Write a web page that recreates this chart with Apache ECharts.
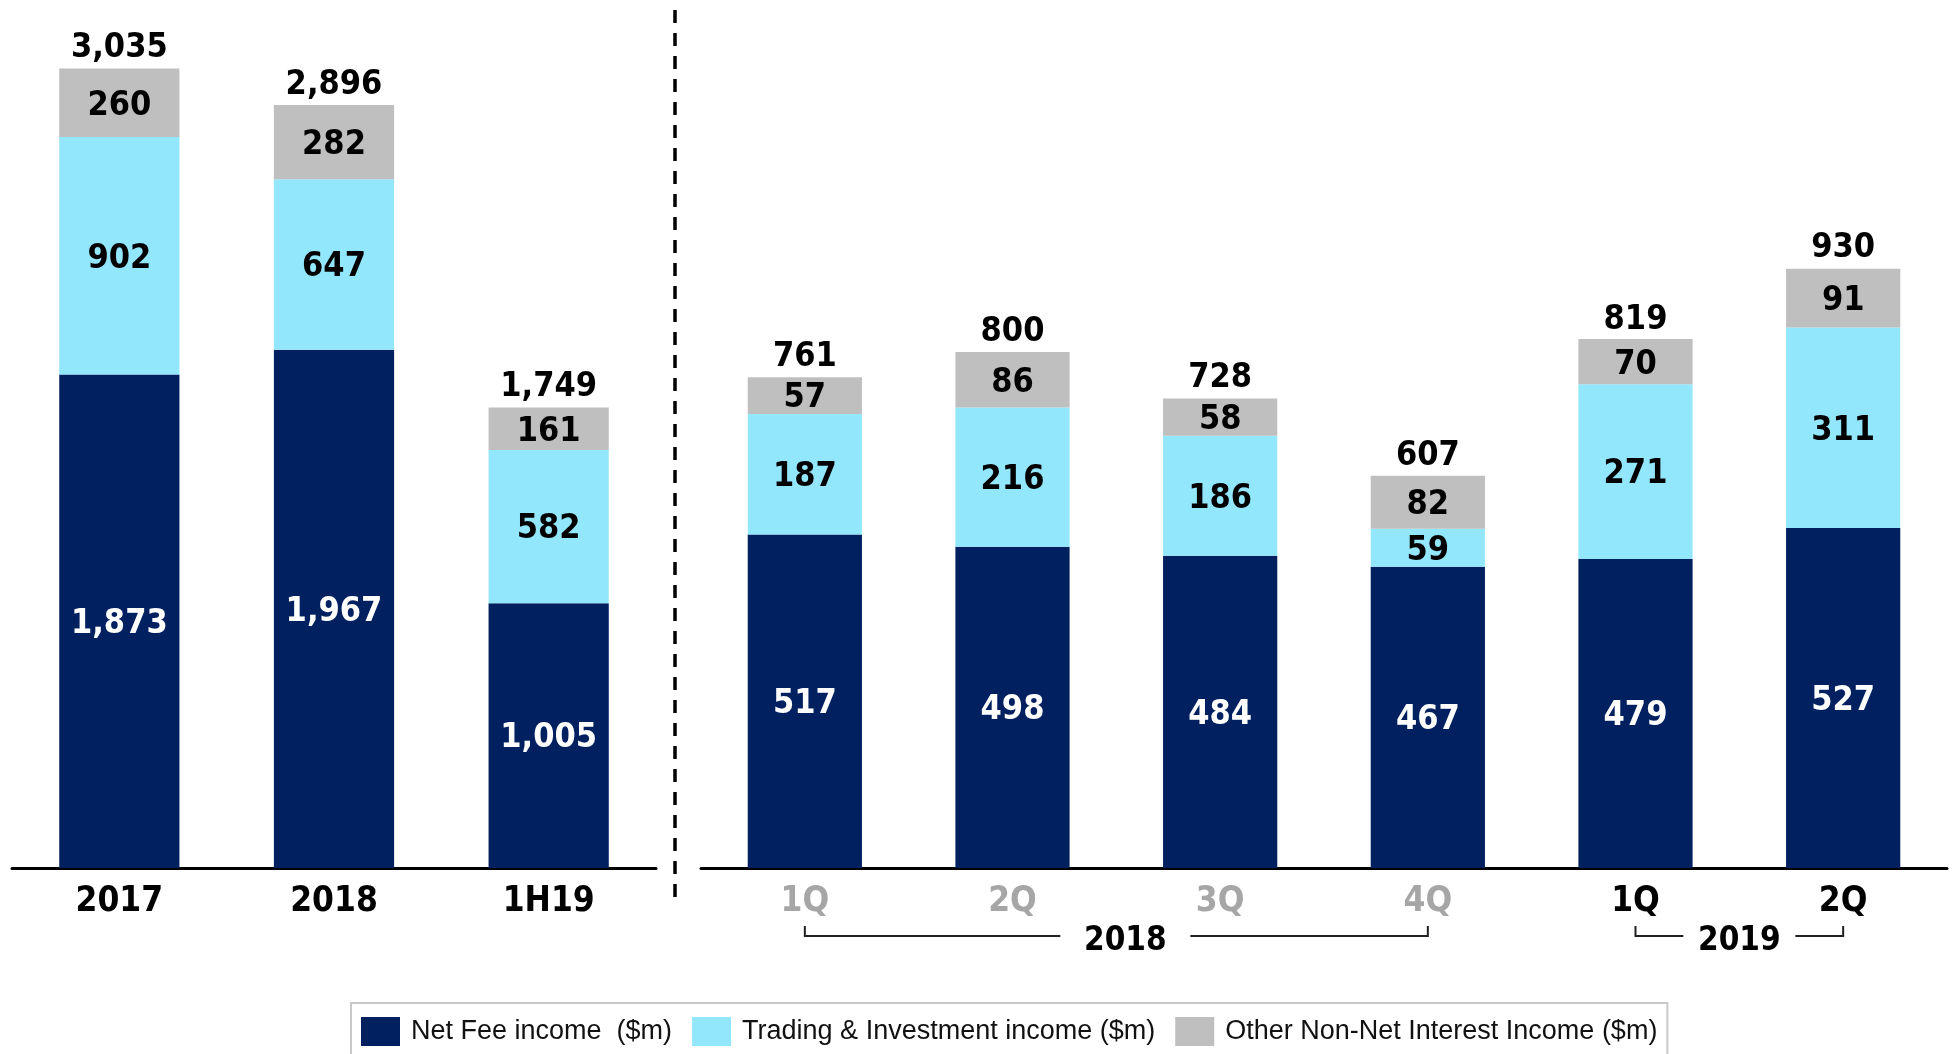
<!DOCTYPE html>
<html>
<head>
<meta charset="utf-8">
<script src="https://cdn.jsdelivr.net/npm/echarts@6/dist/echarts.min.js"></script>
<style>
  html, body { margin: 0; padding: 0; background: #fff; }
  #main { width: 1952px; height: 1054px; }
</style>
</head>
<body>
<div id="main"></div>
<script>
// annual / half-year panel
var periods = ['2017', '2018', '1H19'];
var periodFee = [1873, 1967, 1005];
var periodTrading = [902, 647, 582];
var periodOther = [260, 282, 161];
var periodTotal = [3035, 2896, 1749];

// quarterly panel
var quarters = ['1Q', '2Q', '3Q', '4Q', '1Q', '2Q'];
var quarterFee = [517, 498, 484, 467, 479, 527];
var quarterTrading = [187, 216, 186, 59, 271, 311];
var quarterOther = [57, 86, 58, 82, 70, 91];
var quarterTotal = [761, 800, 728, 607, 819, 930];

// year brackets under the quarters: [label, first index, last index]
var yearGroups = [['2018', 0, 3], ['2019', 4, 5]];

var seriesNames = ['Net Fee income  ($m)', 'Trading & Investment income ($m)', 'Other Non-Net Interest Income ($m)'];

var NAVY = '#002060', CYAN = '#93E7FC', GREY = '#BFBFBF';
var NARROW = "'Liberation Sans Narrow', 'Arial Narrow', 'DejaVu Sans Condensed', sans-serif";
var LABEL_SIZE = 34;

function fmt(v) { return Number(v).toLocaleString('en-US'); }

function stackSeries(idx, fee, trading, other, total) {
    var width = idx === 0 ? '56%' : '55%';
    var base = {
        type: 'bar', stack: 'p' + idx, xAxisIndex: idx, yAxisIndex: idx,
        barWidth: width, barGap: '-100%'
    };
    var lab = function (color) {
        return { show: true, position: 'inside', offset: [0, 3], color: color, fontFamily: NARROW,
                 fontWeight: 'bold', fontSize: LABEL_SIZE, formatter: function (p) { return fmt(p.value); } };
    };
    return [
        Object.assign({}, base, { name: seriesNames[0], data: fee, itemStyle: { color: NAVY }, label: lab('#fff') }),
        Object.assign({}, base, { name: seriesNames[1], data: trading, itemStyle: { color: CYAN }, label: lab('#000') }),
        Object.assign({}, base, { name: seriesNames[2], data: other, itemStyle: { color: GREY }, label: lab('#000') }),
        {
            // invisible overlay bar carrying the total label
            type: 'bar', name: 'total' + idx, xAxisIndex: idx, yAxisIndex: idx, silent: true,
            barWidth: width, barGap: '-100%', z: 1,
            data: total, itemStyle: { color: 'rgba(0,0,0,0)' },
            label: { show: true, position: 'top', distance: 3, color: '#000', fontFamily: NARROW,
                     fontWeight: 'bold', fontSize: LABEL_SIZE, formatter: function (p) { return fmt(p.value); } }
        }
    ];
}

function xAxisOf(idx, data, colorFn) {
    return {
        type: 'category', gridIndex: idx, data: data,
        axisLine: { lineStyle: { color: '#000', width: 3 } },
        axisTick: { show: false },
        axisLabel: { interval: 0, margin: 16, fontFamily: NARROW, fontWeight: 'bold', fontSize: 35, color: colorFn }
    };
}

var chart = echarts.init(document.getElementById('main'));

var option = {
    animation: false,
    grid: [
        { left: 12, right: 1296, top: 25, bottom: 186 },
        { left: 701, right: 5, top: 223, bottom: 186 }
    ],
    xAxis: [
        xAxisOf(0, periods, '#000'),
        xAxisOf(1, quarters, function (v, i) { return i < 4 ? '#A6A6A6' : '#000'; })
    ],
    yAxis: [
        { type: 'value', gridIndex: 0, min: 0, max: 3200, show: false },
        { type: 'value', gridIndex: 1, min: 0, max: 1000, show: false }
    ],
    legend: {
        data: seriesNames,
        left: 351, top: 1003,
        padding: [14, 10, 20, 10],
        icon: 'rect',
        itemWidth: 39, itemHeight: 29, itemGap: 20,
        borderColor: '#C8C8C8', borderWidth: 2,
        textStyle: { fontFamily: "'Liberation Sans', Arial, sans-serif", fontSize: 27, color: '#111', padding: [0, 0, 0, 6] }
    },
    series: stackSeries(0, periodFee, periodTrading, periodOther, periodTotal)
        .concat(stackSeries(1, quarterFee, quarterTrading, quarterOther, quarterTotal))
};

chart.setOption(option);

// separator and year brackets
var graphics = [{
    type: 'line', shape: { x1: 675, y1: 10, x2: 675, y2: 900 },
    style: { stroke: '#000', lineWidth: 3.5, lineDash: [13, 10] }
}];
var textShift = [9, 0];
yearGroups.forEach(function (g, k) {
    var x1 = chart.convertToPixel({ xAxisIndex: 1 }, g[1]);
    var x2 = chart.convertToPixel({ xAxisIndex: 1 }, g[2]);
    var mid = (x1 + x2) / 2 + textShift[k];
    var half = g[2] - g[1] > 1 ? 65 : 56;
    var yTop = 926, yLine = 936;
    graphics.push({
        type: 'polyline', shape: { points: [[x1, yTop], [x1, yLine], [mid - half, yLine]] },
        style: { stroke: '#222', lineWidth: 2, fill: null }
    });
    graphics.push({
        type: 'polyline', shape: { points: [[mid + half, yLine], [x2, yLine], [x2, yTop]] },
        style: { stroke: '#222', lineWidth: 2, fill: null }
    });
    graphics.push({
        type: 'text', x: mid, y: 941,
        style: { text: g[0], fill: '#000', font: 'bold 33px ' + NARROW, textAlign: 'center', textVerticalAlign: 'middle' }
    });
});
chart.setOption({ graphic: graphics });
</script>
</body>
</html>
